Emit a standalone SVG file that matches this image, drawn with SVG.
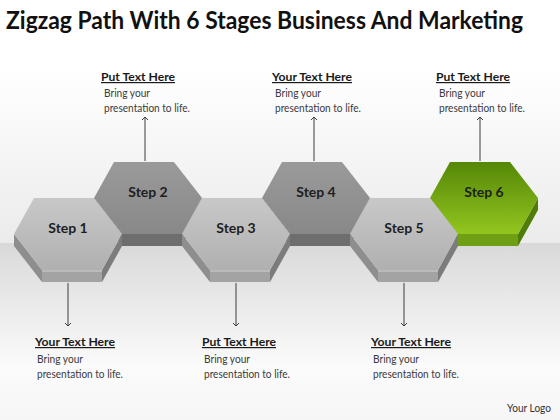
<svg xmlns="http://www.w3.org/2000/svg" xmlns:xlink="http://www.w3.org/1999/xlink" width="560" height="420" viewBox="0 0 560 420">
<style>
  .title{font-family:Lato,"Liberation Sans",sans-serif;font-weight:bold;font-size:24px;fill:#111}
  .hdr{font-family:Lato,"Liberation Sans",sans-serif;font-weight:bold;font-size:12px;fill:#1a1a1a;text-decoration:underline}
  .body{font-family:Lato,"Liberation Sans",sans-serif;font-size:10.5px;fill:#3a3a3a}
  .step{font-family:Lato,"Liberation Sans",sans-serif;font-weight:bold;font-size:14px;fill:#1e1e1e;text-anchor:middle}
  .logo{font-family:Lato,"Liberation Sans",sans-serif;font-size:10.5px;fill:#333}
  .conn{stroke:#3c3c3c;stroke-width:1;fill:none}
</style>
<defs>
  <linearGradient id="bgTop" x1="0" y1="0" x2="0" y2="1">
    <stop offset="0" stop-color="#ffffff"/>
    <stop offset="1" stop-color="#ebebeb"/>
  </linearGradient>
  <linearGradient id="bgBot" x1="0" y1="0" x2="0" y2="1">
    <stop offset="0" stop-color="#d9d9d9"/>
    <stop offset="0.7" stop-color="#fbfbfb"/>
    <stop offset="1" stop-color="#f6f6f6"/>
  </linearGradient>
  <linearGradient id="faceLight" x1="0" y1="0" x2="0" y2="1">
    <stop offset="0" stop-color="#c8c8c8"/>
    <stop offset="1" stop-color="#b0b0b0"/>
  </linearGradient>
  <linearGradient id="faceDark" x1="0" y1="0" x2="0" y2="1">
    <stop offset="0" stop-color="#9a9a9a"/>
    <stop offset="1" stop-color="#888888"/>
  </linearGradient>
  <linearGradient id="faceGreen" x1="0" y1="0" x2="0" y2="1">
    <stop offset="0" stop-color="#558708"/>
    <stop offset="1" stop-color="#92c61e"/>
  </linearGradient>
  <marker id="ah" markerWidth="8" markerHeight="8" refX="4" refY="4" orient="auto" markerUnits="userSpaceOnUse">
    <path d="M1,1 L4,4 L1,7" fill="none" stroke="#3c3c3c" stroke-width="1"/>
  </marker>
  <g id="hexLight">
    <polygon points="-54,0 -54,12 -26,48 -26,36" fill="#8e8e8e"/>
    <polygon points="-26,36 -26,48 34,48 34,36" fill="#a3a3a3"/>
    <polygon points="34,36 34,48 54,12 54,0" fill="#7c7c7c"/>
    <line x1="-26" y1="37" x2="34" y2="37" stroke="#d2d2d2" stroke-width="1"/>
    <polygon points="-54,0 -34,-36 26,-36 54,0 34,36 -26,36" fill="url(#faceLight)"/>
  </g>
  <g id="hexDark">
    <polygon points="-54,0 -54,12 -26,48 -26,36" fill="#5e5e5e"/>
    <polygon points="-26,36 -26,48 34,48 34,36" fill="#6e6e6e"/>
    <polygon points="34,36 34,48 54,12 54,0" fill="#5a5a5a"/>
    <polygon points="-54,0 -34,-36 26,-36 54,0 34,36 -26,36" fill="url(#faceDark)"/>
  </g>
  <g id="hexGreen">
    <polygon points="-54,0 -54,12 -26,48 -26,36" fill="#5b8c0c"/>
    <polygon points="-26,36 -26,48 34,48 34,36" fill="#6f9f14"/>
    <polygon points="34,36 34,48 54,12 54,0" fill="#4f7d07"/>
    <polygon points="-54,0 -34,-36 26,-36 54,0 34,36 -26,36" fill="url(#faceGreen)"/>
  </g>
</defs>

<rect x="0" y="0" width="560" height="420" fill="#ffffff"/>
<rect x="0" y="70" width="560" height="173" fill="url(#bgTop)"/>
<rect x="0" y="243" width="560" height="177" fill="url(#bgBot)"/>

<text class="title" x="6" y="29" textLength="517" lengthAdjust="spacingAndGlyphs">Zigzag Path With 6 Stages Business And Marketing</text>

<g id="step2" transform="translate(148,198)">
  <use xlink:href="#hexDark"/>
  <text class="step" x="0" y="-1">Step 2</text>
</g>
<g id="step4" transform="translate(316,198)">
  <use xlink:href="#hexDark"/>
  <text class="step" x="0" y="-1">Step 4</text>
</g>
<g id="step6" transform="translate(484,198)">
  <use xlink:href="#hexGreen"/>
  <text class="step" x="0" y="-1">Step 6</text>
</g>
<g id="step1" transform="translate(68,234)">
  <use xlink:href="#hexLight"/>
  <text class="step" x="0" y="-1">Step 1</text>
</g>
<g id="step3" transform="translate(236,234)">
  <use xlink:href="#hexLight"/>
  <text class="step" x="0" y="-1">Step 3</text>
</g>
<g id="step5" transform="translate(404,234)">
  <use xlink:href="#hexLight"/>
  <text class="step" x="0" y="-1">Step 5</text>
</g>

<g id="connectors">
  <line class="conn" x1="145" y1="161" x2="145" y2="117" marker-end="url(#ah)"/>
  <line class="conn" x1="314" y1="161" x2="314" y2="117" marker-end="url(#ah)"/>
  <line class="conn" x1="480" y1="161" x2="480" y2="117" marker-end="url(#ah)"/>
  <line class="conn" x1="68" y1="283" x2="68" y2="326" marker-end="url(#ah)"/>
  <line class="conn" x1="236" y1="283" x2="236" y2="326" marker-end="url(#ah)"/>
  <line class="conn" x1="404" y1="283" x2="404" y2="326" marker-end="url(#ah)"/>
</g>

<g id="label2">
  <text class="hdr" x="101" y="81" textLength="74" lengthAdjust="spacingAndGlyphs">Put Text Here</text>
  <text class="body" x="104" y="97" textLength="46" lengthAdjust="spacingAndGlyphs">Bring your</text>
  <text class="body" x="104" y="112" textLength="86" lengthAdjust="spacingAndGlyphs">presentation to life.</text>
</g>
<g id="label4">
  <text class="hdr" x="272" y="81" textLength="80" lengthAdjust="spacingAndGlyphs">Your Text Here</text>
  <text class="body" x="275" y="97" textLength="46" lengthAdjust="spacingAndGlyphs">Bring your</text>
  <text class="body" x="275" y="112" textLength="86" lengthAdjust="spacingAndGlyphs">presentation to life.</text>
</g>
<g id="label6">
  <text class="hdr" x="436" y="81" textLength="74" lengthAdjust="spacingAndGlyphs">Put Text Here</text>
  <text class="body" x="439" y="97" textLength="46" lengthAdjust="spacingAndGlyphs">Bring your</text>
  <text class="body" x="439" y="112" textLength="86" lengthAdjust="spacingAndGlyphs">presentation to life.</text>
</g>
<g id="label1">
  <text class="hdr" x="35" y="346" textLength="80" lengthAdjust="spacingAndGlyphs">Your Text Here</text>
  <text class="body" x="37" y="363" textLength="46" lengthAdjust="spacingAndGlyphs">Bring your</text>
  <text class="body" x="37" y="378" textLength="86" lengthAdjust="spacingAndGlyphs">presentation to life.</text>
</g>
<g id="label3">
  <text class="hdr" x="202" y="346" textLength="74" lengthAdjust="spacingAndGlyphs">Put Text Here</text>
  <text class="body" x="204" y="363" textLength="46" lengthAdjust="spacingAndGlyphs">Bring your</text>
  <text class="body" x="204" y="378" textLength="86" lengthAdjust="spacingAndGlyphs">presentation to life.</text>
</g>
<g id="label5">
  <text class="hdr" x="371" y="346" textLength="80" lengthAdjust="spacingAndGlyphs">Your Text Here</text>
  <text class="body" x="373" y="363" textLength="46" lengthAdjust="spacingAndGlyphs">Bring your</text>
  <text class="body" x="373" y="378" textLength="86" lengthAdjust="spacingAndGlyphs">presentation to life.</text>
</g>

<text class="logo" x="507" y="412" textLength="44" lengthAdjust="spacingAndGlyphs">Your Logo</text>
</svg>
